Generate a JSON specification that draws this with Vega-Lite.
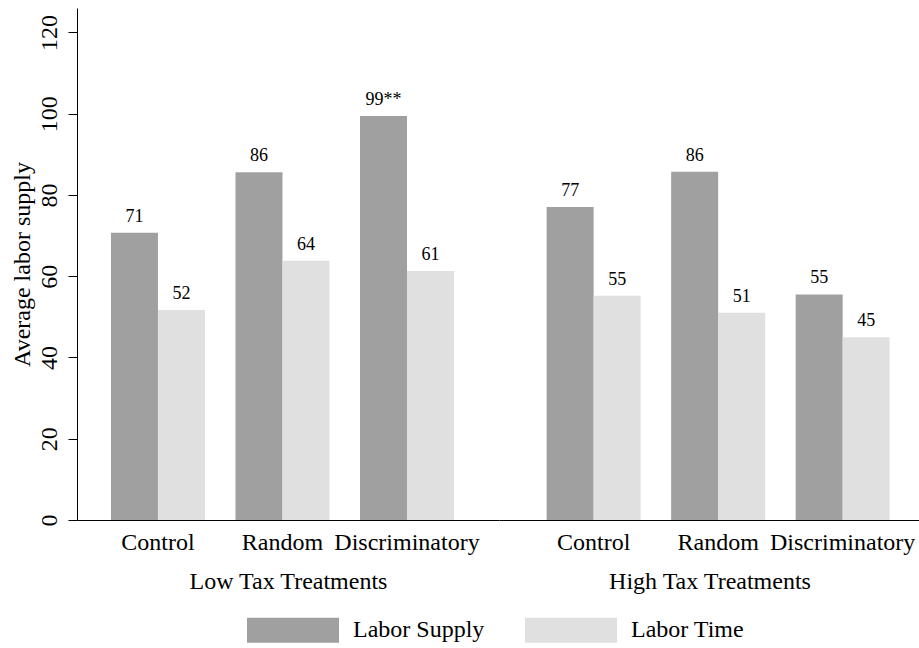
{
  "$schema": "https://vega.github.io/schema/vega-lite/v6.json",
  "padding": {"left": 10, "top": 8, "right": 0, "bottom": 0},
  "background": "white",
  "config": {
    "font": "Liberation Serif",
    "view": {"stroke": null},
    "style": {"guide-label": {"font": "Liberation Serif", "fontWeight": "normal"}, "guide-title": {"font": "Liberation Serif"}},
    "axis": {"labelColor": "black", "titleColor": "black", "domainColor": "black", "tickColor": "black", "labelFontSize": 24, "titleFontSize": 24, "titleFontWeight": "normal", "grid": false},
    "legend": {"labelColor": "black"}
  },
  "data": {"values": [
    {"tax": "Low Tax Treatments", "treatment": "Control", "measure": "Labor Supply", "value": 70.7, "label": "71"},
    {"tax": "Low Tax Treatments", "treatment": "Control", "measure": "Labor Time", "value": 51.7, "label": "52"},
    {"tax": "Low Tax Treatments", "treatment": "Random", "measure": "Labor Supply", "value": 85.6, "label": "86"},
    {"tax": "Low Tax Treatments", "treatment": "Random", "measure": "Labor Time", "value": 63.8, "label": "64"},
    {"tax": "Low Tax Treatments", "treatment": "Discriminatory", "measure": "Labor Supply", "value": 99.4, "label": "99**"},
    {"tax": "Low Tax Treatments", "treatment": "Discriminatory", "measure": "Labor Time", "value": 61.3, "label": "61"},
    {"tax": "High Tax Treatments", "treatment": "Control", "measure": "Labor Supply", "value": 77.0, "label": "77"},
    {"tax": "High Tax Treatments", "treatment": "Control", "measure": "Labor Time", "value": 55.2, "label": "55"},
    {"tax": "High Tax Treatments", "treatment": "Random", "measure": "Labor Supply", "value": 85.7, "label": "86"},
    {"tax": "High Tax Treatments", "treatment": "Random", "measure": "Labor Time", "value": 51.0, "label": "51"},
    {"tax": "High Tax Treatments", "treatment": "Discriminatory", "measure": "Labor Supply", "value": 55.5, "label": "55"},
    {"tax": "High Tax Treatments", "treatment": "Discriminatory", "measure": "Labor Time", "value": 45.0, "label": "45"}
  ]},
  "spacing": 0,
  "hconcat": [
    {
      "width": 422,
      "height": 512,
      "transform": [{"filter": "datum.tax == 'Low Tax Treatments'"}],
      "encoding": {
        "x": {"field": "treatment", "type": "nominal", "sort": ["Control", "Random", "Discriminatory"],
              "scale": {"paddingInner": 0.245, "paddingOuter": 0.317, "align": 0.43},
              "axis": {"title": "Low Tax Treatments", "labelFont": "Liberation Serif", "titleFont": "Liberation Serif", "labelFontSize": 24, "labelAngle": 0, "ticks": false, "labelPadding": 10, "titlePadding": 15}},
        "xOffset": {"field": "measure", "type": "nominal", "scale": {"paddingInner": 0, "paddingOuter": 0}},
        "y": {"field": "value", "type": "quantitative", "scale": {"domain": [0, 126], "nice": false, "zero": true},
              "axis": {"title": "Average labor supply", "labelFont": "Liberation Serif", "titleFont": "Liberation Serif", "labelFontSize": 24, "values": [0, 20, 40, 60, 80, 100, 120], "tickSize": 9, "labelAngle": -90, "labelAlign": "center", "labelBaseline": "bottom", "labelPadding": 7, "titlePadding": 3}}
      },
      "layer": [
        {"mark": {"type": "bar"},
         "encoding": {"color": {"field": "measure", "type": "nominal", "scale": {"domain": ["Labor Supply", "Labor Time"], "range": ["#a0a0a0", "#e0e0e0"]},
           "legend": {"title": null, "orient": "none", "legendX": 170, "legendY": 576, "direction": "horizontal", "symbolType": "M-1,-0.27H1V0.27H-1Z", "symbolSize": 8464, "symbolStrokeWidth": 0, "labelFont": "Liberation Serif", "labelFontSize": 24, "labelOffset": 14, "columnPadding": 40}}}},
        {"mark": {"type": "text", "font": "Liberation Serif", "baseline": "alphabetic", "dy": -11, "fontSize": 18, "color": "black"},
         "encoding": {"text": {"field": "label"}}}
      ]
    },
    {
      "width": 421,
      "height": 512,
      "transform": [{"filter": "datum.tax == 'High Tax Treatments'"}],
      "encoding": {
        "x": {"field": "treatment", "type": "nominal", "sort": ["Control", "Random", "Discriminatory"],
              "scale": {"paddingInner": 0.245, "paddingOuter": 0.313, "align": 0.611},
              "axis": {"title": "High Tax Treatments", "labelFont": "Liberation Serif", "titleFont": "Liberation Serif", "labelFontSize": 24, "labelAngle": 0, "ticks": false, "labelPadding": 10, "titlePadding": 15}},
        "xOffset": {"field": "measure", "type": "nominal", "scale": {"paddingInner": 0, "paddingOuter": 0}},
        "y": {"field": "value", "type": "quantitative", "scale": {"domain": [0, 126], "nice": false, "zero": true}, "axis": null}
      },
      "layer": [
        {"mark": {"type": "bar"},
         "encoding": {"color": {"field": "measure", "type": "nominal"}}},
        {"mark": {"type": "text", "font": "Liberation Serif", "baseline": "alphabetic", "dy": -11, "fontSize": 18, "color": "black"},
         "encoding": {"text": {"field": "label"}}}
      ]
    }
  ]
}
